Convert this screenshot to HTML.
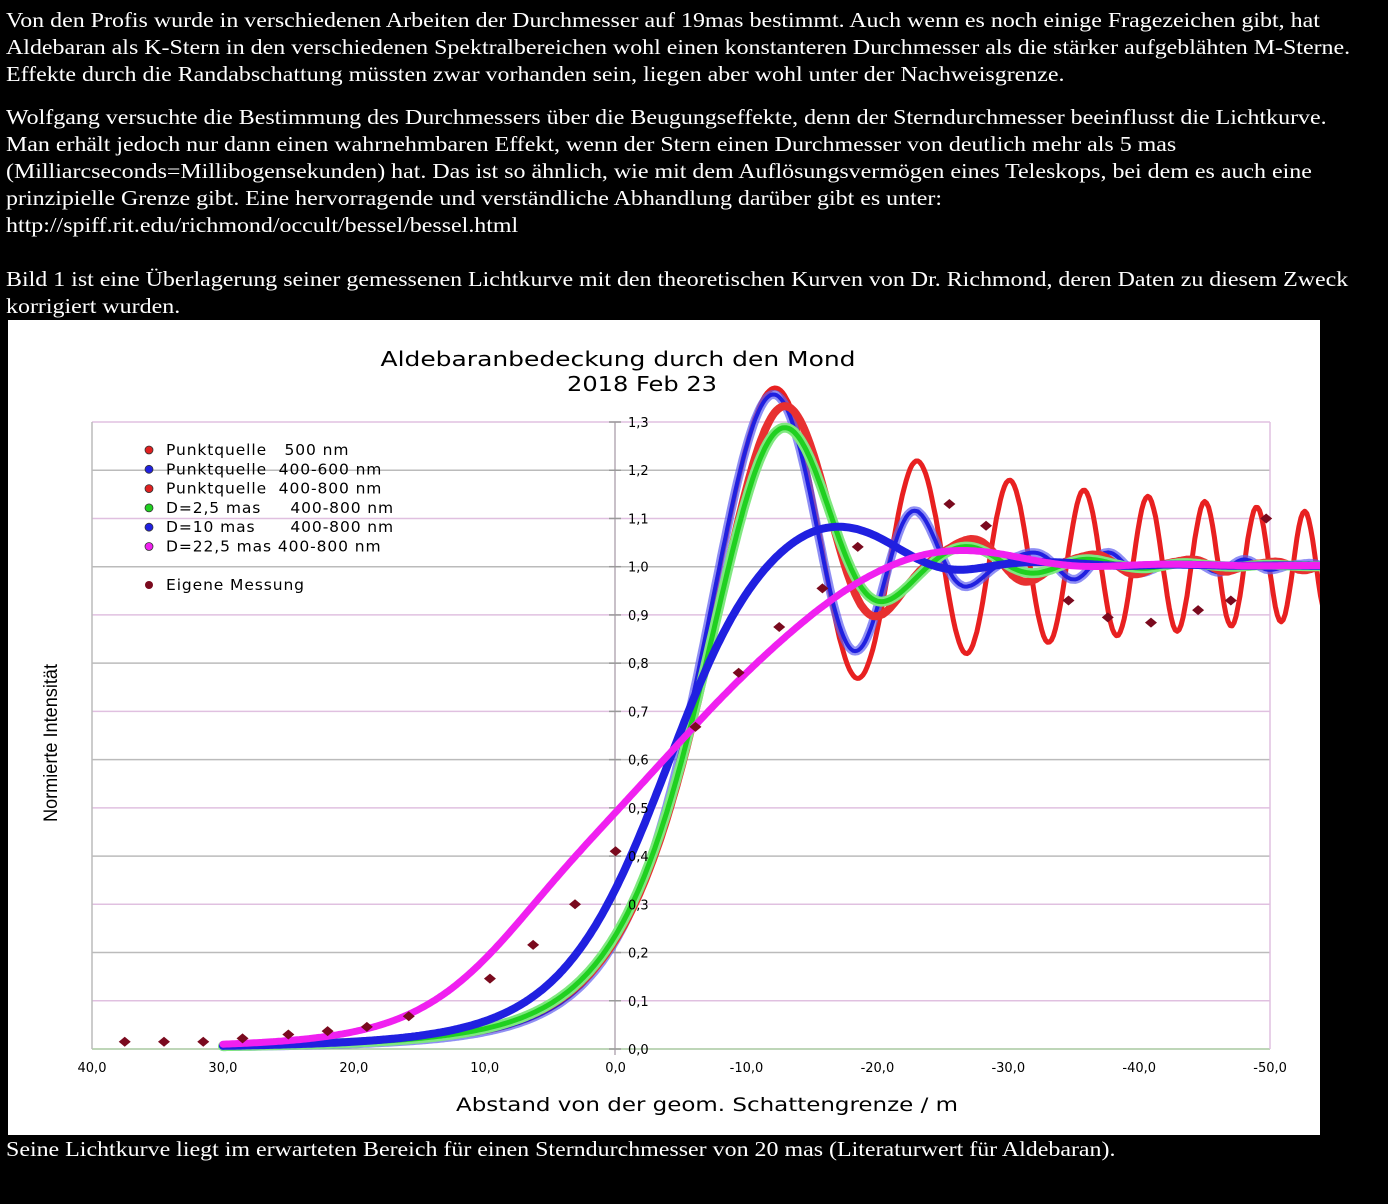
<!DOCTYPE html>
<html><head><meta charset="utf-8">
<style>
html,body{margin:0;padding:0;background:#000;}
body{width:1388px;height:1204px;overflow:hidden;position:relative;font-family:"Liberation Serif",serif;color:#fff;font-size:21px;}
.t{position:absolute;left:6px;line-height:27px;white-space:nowrap;transform:scaleX(1.14);transform-origin:0 0;}
#chart{position:absolute;left:8px;top:320px;}
</style></head><body>
<div class="t" style="top:7px">Von den Profis wurde in verschiedenen Arbeiten der Durchmesser auf 19mas bestimmt. Auch wenn es noch einige Fragezeichen gibt, hat<br>Aldebaran als K-Stern in den verschiedenen Spektralbereichen wohl einen konstanteren Durchmesser als die stärker aufgeblähten M-Sterne.<br>Effekte durch die Randabschattung müssten zwar vorhanden sein, liegen aber wohl unter der Nachweisgrenze.</div>
<div class="t" style="top:104px">Wolfgang versuchte die Bestimmung des Durchmessers über die Beugungseffekte, denn der Sterndurchmesser beeinflusst die Lichtkurve.<br>Man erhält jedoch nur dann einen wahrnehmbaren Effekt, wenn der Stern einen Durchmesser von deutlich mehr als 5 mas<br>(Milliarcseconds=Millibogensekunden) hat. Das ist so ähnlich, wie mit dem Auflösungsvermögen eines Teleskops, bei dem es auch eine<br>prinzipielle Grenze gibt. Eine hervorragende und verständliche Abhandlung darüber gibt es unter:<br>http://spiff.rit.edu/richmond/occult/bessel/bessel.html</div>
<div class="t" style="top:266px">Bild 1 ist eine Überlagerung seiner gemessenen Lichtkurve mit den theoretischen Kurven von Dr. Richmond, deren Daten zu diesem Zweck<br>korrigiert wurden.</div>
<div class="t" style="top:1136px">Seine Lichtkurve liegt im erwarteten Bereich für einen Sterndurchmesser von 20 mas (Literaturwert für Aldebaran).</div>
<svg id="chart" width="1312" height="815" viewBox="8 320 1312 815" xmlns="http://www.w3.org/2000/svg">
<rect x="8" y="320" width="1312" height="815" fill="#fff"/>
<g id="grid"></g>
<g id="curves" fill="none" stroke-linejoin="round" stroke-linecap="round"></g>
<g id="dots" fill="#7a0a1e"></g>
<g font-family="'DejaVu Sans',sans-serif" fill="#000">
<text x="618" y="366" font-size="20" text-anchor="middle" textLength="475" lengthAdjust="spacingAndGlyphs">Aldebaranbedeckung durch den Mond</text>
<text x="642" y="391" font-size="20" text-anchor="middle" textLength="150" lengthAdjust="spacingAndGlyphs">2018 Feb 23</text>
<text x="707" y="1111" font-size="19" text-anchor="middle" textLength="502" lengthAdjust="spacingAndGlyphs">Abstand von der geom. Schattengrenze / m</text>
</g>
<text transform="translate(57,743) rotate(-90)" font-family="'Liberation Sans Narrow','Liberation Sans',sans-serif" font-size="19" text-anchor="middle" textLength="158" lengthAdjust="spacingAndGlyphs">Normierte Intensität</text>
<g id="legend" font-family="'DejaVu Sans',sans-serif" font-size="15.5" fill="#000" style="letter-spacing:0.9px"></g>
<g id="ticks" font-family="'DejaVu Sans',sans-serif" font-size="13" fill="#000"></g>
</svg>
<script>
const NS="http://www.w3.org/2000/svg";
function el(p,t,a,txt){const e=document.createElementNS(NS,t);for(const k in a)e.setAttribute(k,a[k]);if(txt!==undefined)e.textContent=txt;document.getElementById(p).appendChild(e);return e;}
const PX=x=>615.6-x*13.09, PY=y=>1049-y*48.23*10;
for(let i=0;i<=13;i++){const y=1049-i*48.23;el('grid','line',{x1:92,x2:1270,y1:y,y2:y,stroke:i==0?'#a8c8a0':(i%2?'#e0c0e0':'#bbb'),'stroke-width':1.5});}
el('grid','line',{x1:92,x2:92,y1:422,y2:1049,stroke:'#bbb','stroke-width':1.5});
el('grid','line',{x1:1270,x2:1270,y1:422,y2:1049,stroke:'#e0c0e0','stroke-width':1.5});
el('grid','line',{x1:615,x2:615,y1:422,y2:1055,stroke:'#c8c0c8','stroke-width':2});
for(let i=0;i<=13;i++){const y=1049-i*48.23;el('grid','line',{x1:609,x2:621,y1:y,y2:y,stroke:'#999','stroke-width':1.5});
 el('ticks','text',{x:628,y:y+5},(i/10).toFixed(1).replace('.',','));}
const xl=['40,0','30,0','20,0','10,0','0,0','-10,0','-20,0','-30,0','-40,0','-50,0'];
xl.forEach((s,i)=>{const x=92+i*130.9;el('ticks','text',{x:x,y:1072,'text-anchor':'middle'},s);});
const N='\u00A0';
const leg=[['#e02020','Punktquelle'+N+N+N+'500 nm'],['#2020e0','Punktquelle'+N+N+'400-600 nm'],['#e02020','Punktquelle'+N+N+'400-800 nm'],['#20d020','D=2,5 mas'+N+N+N+N+N+'400-800 nm'],['#2020e0','D=10 mas'+N+N+N+N+N+N+'400-800 nm'],['#f020f0','D=22,5 mas'+N+'400-800 nm']];
leg.forEach((l,i)=>{const y=450+i*19.3;el('legend','circle',{cx:149,cy:y,r:4,fill:l[0],stroke:'#333','stroke-width':0.8});el('legend','text',{x:166,y:y+5},l[1]);});
el('legend','circle',{cx:149,cy:585,r:4,fill:'#7a0a1e'});el('legend','text',{x:166,y:590},'Eigene Messung');
const dw=0.002,NW=15000;const Ct=new Float64Array(NW+1),St=new Float64Array(NW+1);
for(let i=1;i<=NW;i++){const a=(i-0.5)*dw;Ct[i]=Ct[i-1]+Math.cos(Math.PI*a*a/2)*dw;St[i]=St[i-1]+Math.sin(Math.PI*a*a/2)*dw;}
function Ip(w){const s=w<0?-1:1;let k=Math.min(NW,Math.round(Math.abs(w)/dw));const C=s*Ct[k],S=s*St[k];return 0.5*((C+0.5)**2+(S+0.5)**2);}
const u0=0.5,s500=9.6;
function Ib(u,l1,l2){let n=15,sum=0;for(let j=0;j<n;j++){const l=l1+(l2-l1)*(j+0.5)/n;sum+=Ip((u-u0)/(s500*Math.sqrt(l/500)));}return sum/n;}
function Id(u,R){let n=25,sum=0,ws=0;for(let j=0;j<n;j++){const t=-1+2*(j+0.5)/n;const w=Math.sqrt(1-t*t);sum+=w*Ib(u+t*R,400,800);ws+=w;}return sum/ws;}
function draw(f,col,wd,op){let pts=[];for(let u=-30;u<=54.5;u+=0.15){const y=f(u);pts.push(PX(-u).toFixed(1)+','+PY(y).toFixed(1));}
 el('curves','polyline',{points:pts.join(' '),stroke:col,'stroke-width':wd,opacity:op||1});}
draw(u=>{const w=(u-u0)/s500;const v=Ip(w);const f=1+0.12*Math.max(0,Math.min(3,w-1.5));return 1+(v-1)*f;},'#e82020',5);
draw(u=>Ib(u,400,600),'#6060f0',9,0.7);
draw(u=>Ib(u,400,600),'#2020e0',4);
draw(u=>Ib(u,400,800),'#e83030',8);
draw(u=>Id(u,2.9),'#80e880',10);
draw(u=>Id(u,2.9),'#20d020',5);
draw(u=>Id(u,10),'#2020e0',8);
draw(u=>Id(u+1,21),'#f020f0',7);
const d=[[37.5,.015],[34.5,.015],[31.5,.015],[28.5,.022],[25,.03],[22,.037],[19,.046],[15.8,.068],[9.6,.146],[6.3,.216],[3.1,.30],[0,.41],[-6.1,.668],[-9.4,.78],[-12.5,.875],[-15.8,.955],[-18.5,1.041],[-25.5,1.13],[-28.3,1.085],[-34.6,.93],[-37.6,.895],[-40.9,.884],[-44.5,.91],[-47,.93],[-49.7,1.1]];
d.forEach(p=>{const x=PX(p[0]),y=PY(p[1]);el('dots','polygon',{points:`${x},${y-5} ${x+6},${y} ${x},${y+5} ${x-6},${y}`});});
</script>
</body></html>
